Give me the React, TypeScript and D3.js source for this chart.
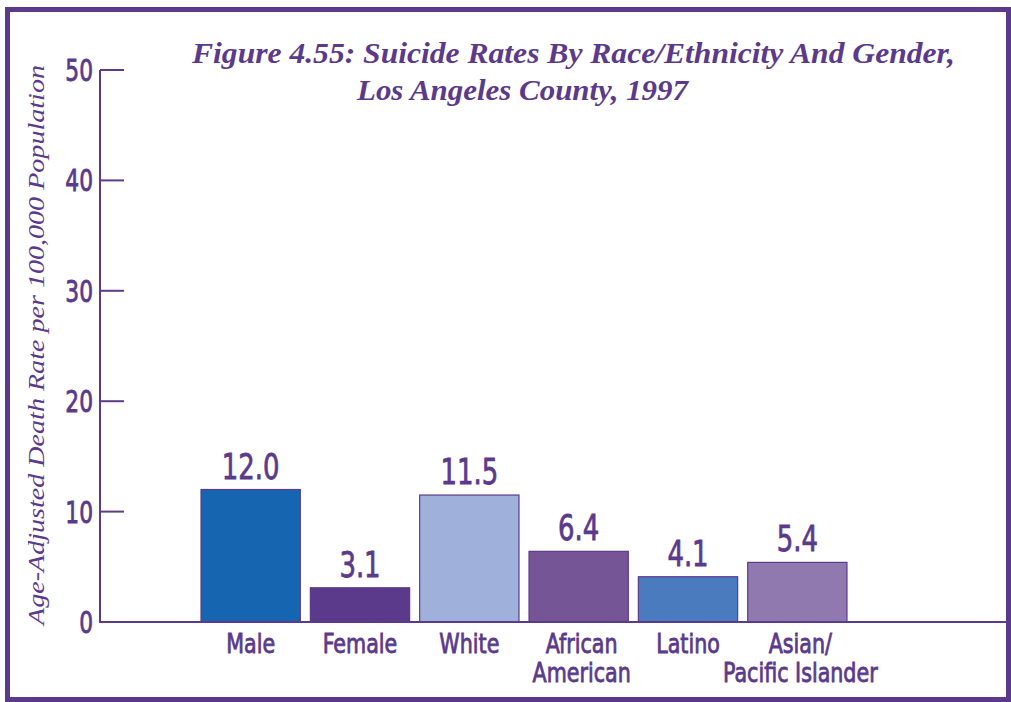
import React from "react";
import * as d3 from "d3";

const categories = ["Male", "Female", "White", "African American", "Latino", "Asian/ Pacific Islander"];
const categoryLines = [["Male"], ["Female"], ["White"], ["African", "American"], ["Latino"], ["Asian/", "Pacific Islander"]];
const rates = [12.0, 3.1, 11.5, 6.4, 4.1, 5.4];
const barColors = ["#1565b0", "#5c3a8b", "#9fb0da", "#765596", "#4b7bbf", "#8f79ae"];
const yTicks = [0, 10, 20, 30, 40, 50];
const titleLines = ["Figure 4.55: Suicide Rates By Race/Ethnicity And Gender,", "Los Angeles County, 1997"];
const yAxisTitle = "Age-Adjusted Death Rate per 100,000 Population";

const W = 1011;
const H = 702;
const PURPLE = "#5b3a8c";
const SANS = "'DejaVu Sans Condensed', 'DejaVu Sans', sans-serif";
const SERIF = "'Liberation Serif', 'DejaVu Serif', serif";

// condensed sans label, squeezed horizontally around its anchor point
function Label(props: { x: number; y: number; size: number; sx: number; anchor: string; children: React.ReactNode }) {
  return (
    <g transform={`translate(${props.x}, ${props.y}) scale(${props.sx}, 1)`}>
      <text
        x={0}
        y={0}
        textAnchor={props.anchor}
        fill={PURPLE}
        stroke={PURPLE}
        strokeWidth={0.8}
        fontFamily={SANS}
        fontSize={props.size}
      >
        {props.children}
      </text>
    </g>
  );
}

export default function App() {
  const axisX = 100;
  const y = d3.scaleLinear().domain([0, 50]).range([622, 70]);
  const x = d3
    .scaleBand<string>()
    .domain(categories)
    .range([196, 852])
    .paddingInner(0.092)
    .paddingOuter(0.046);

  return (
    <svg
      width={W}
      height={H}
      viewBox={`0 0 ${W} ${H}`}
      style={{ position: "absolute", left: 0, top: 0, background: "#fff" }}
    >
      {/* frame */}
      <rect x={7.5} y={9.5} width={1001} height={690} fill="#fff" stroke={PURPLE} strokeWidth={5} />

      {/* title */}
      <text
        x={192}
        y={63}
        fill={PURPLE}
        fontFamily={SERIF}
        fontStyle="italic"
        fontWeight="bold"
        fontSize={30}
        textLength={763}
        lengthAdjust="spacingAndGlyphs"
      >
        {titleLines[0]}
      </text>
      <text
        x={357}
        y={100}
        fill={PURPLE}
        fontFamily={SERIF}
        fontStyle="italic"
        fontWeight="bold"
        fontSize={30}
        textLength={331}
        lengthAdjust="spacingAndGlyphs"
      >
        {titleLines[1]}
      </text>

      {/* y axis title */}
      <text
        transform={`translate(44, ${(625 + 65) / 2}) rotate(-90)`}
        textAnchor="middle"
        fill={PURPLE}
        fontFamily={SERIF}
        fontStyle="italic"
        fontSize={24}
        textLength={560}
        lengthAdjust="spacingAndGlyphs"
      >
        {yAxisTitle}
      </text>

      {/* bars */}
      {categories.map((c, i) => {
        const cx = (x(c) as number) + x.bandwidth() / 2;
        return (
          <g key={c}>
            <rect
              x={x(c)}
              y={y(rates[i])}
              width={x.bandwidth()}
              height={y(0) - y(rates[i])}
              fill={barColors[i]}
              stroke={PURPLE}
              strokeWidth={1.2}
            />
            <Label x={cx} y={y(rates[i]) - 11} size={36} sx={0.8} anchor="middle">
              {rates[i].toFixed(1)}
            </Label>
            {categoryLines[i].map((line, j) => (
              <Label key={line} x={cx + (j > 0 || categoryLines[i].length > 1 ? 3 : 0)} y={653 + j * 29} size={27} sx={0.85} anchor="middle">
                {line}
              </Label>
            ))}
          </g>
        );
      })}

      {/* axes */}
      <line x1={axisX} x2={axisX} y1={y(50)} y2={y(0) + 1} stroke={PURPLE} strokeWidth={2} />
      <line x1={axisX} x2={1007} y1={y(0)} y2={y(0)} stroke={PURPLE} strokeWidth={2} />
      {yTicks.map((t) => (
        <g key={t}>
          <line x1={axisX} x2={124} y1={y(t)} y2={y(t)} stroke={PURPLE} strokeWidth={2} />
          <Label x={93} y={y(t) + 11} size={31} sx={0.78} anchor="end">
            {t}
          </Label>
        </g>
      ))}
    </svg>
  );
}
